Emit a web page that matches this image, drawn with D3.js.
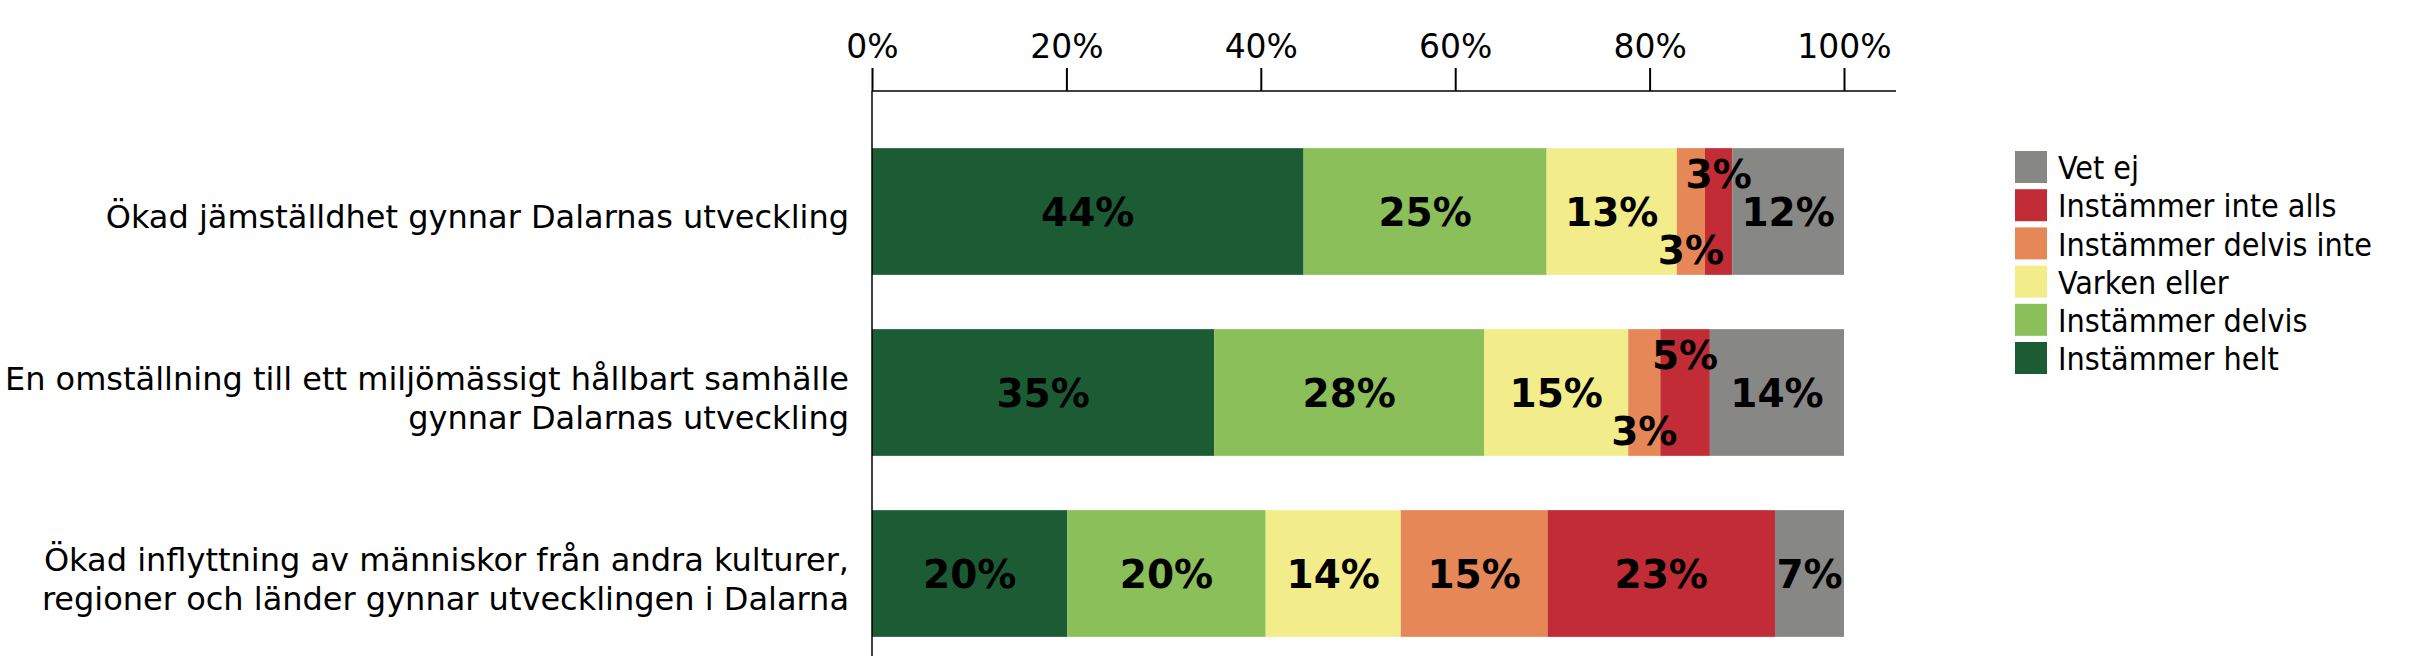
<!DOCTYPE html>
<html>
<head>
<meta charset="utf-8">
<script src="https://cdn.jsdelivr.net/npm/d3@7"></script>
<style>
  html, body { margin: 0; padding: 0; background: #fff; }
  svg { display: block; }
  text { font-family: "DejaVu Sans", sans-serif; }
  .cond { font-family: "DejaVu Sans Condensed", "DejaVu Sans", sans-serif; font-stretch: condensed; }
</style>
</head>
<body>
<svg id="chart" width="2430" height="656"></svg>
<script>
// ---- Data ----
const categories = [
  ["Ökad jämställdhet gynnar Dalarnas utveckling"],
  ["En omställning till ett miljömässigt hållbart samhälle", "gynnar Dalarnas utveckling"],
  ["Ökad inflyttning av människor från andra kulturer,", "regioner och länder gynnar utvecklingen i Dalarna"]
];
const seriesNames = ["Instämmer helt", "Instämmer delvis", "Varken eller", "Instämmer delvis inte", "Instämmer inte alls", "Vet ej"];
const seriesColors = ["#1c5c34", "#8bbf59", "#f2ed8a", "#e68758", "#c12c36", "#878786"];
const instammerHelt      = [44.4, 35.2, 20.1];
const instammerDelvis    = [25.0, 27.8, 20.4];
const varkenEller        = [13.4, 14.8, 13.9];
const instammerDelvisInte= [2.9, 3.3, 15.1];
const instammerInteAlls  = [2.8, 5.1, 23.4];
const vetEj              = [11.5, 13.8, 7.1];
const tickValues = [0, 20, 40, 60, 80, 100];

const seriesValues = [instammerHelt, instammerDelvis, varkenEller, instammerDelvisInte, instammerInteAlls, vetEj];

// ---- Layout ----
const svg = d3.select("#chart");
const x = d3.scaleLinear().domain([0, 100]).range([872, 1844]);
const y = d3.scaleBand().domain(d3.range(categories.length)).range([121, 664]).paddingInner(0.3).paddingOuter(0.15);
const axisY = 91;

const rows = categories.map((c, i) => {
  const r = { idx: i };
  seriesNames.forEach((s, j) => r[s] = seriesValues[j][i]);
  return r;
});
const stack = d3.stack().keys(seriesNames)(rows);

const gBars = svg.append("g");
stack.forEach((layer, j) => {
  gBars.selectAll(null).data(layer).enter().append("rect")
    .attr("x", d => x(d[0]))
    .attr("width", d => x(d[1]) - x(d[0]))
    .attr("y", (d, i) => y(i))
    .attr("height", y.bandwidth())
    .attr("fill", seriesColors[j]);
});

// data labels
const labelOffset = 38;
stack.forEach((layer, j) => {
  gBars.selectAll(null).data(layer).enter().append("text")
    .attr("x", d => (x(d[0]) + x(d[1])) / 2)
    .attr("y", (d, i) => {
      const v = d[1] - d[0];
      let c = y(i) + y.bandwidth() / 2;
      if (v < 6) c += (seriesNames[j] === "Instämmer inte alls") ? -labelOffset : labelOffset;
      return c;
    })
    .attr("dy", "0.36em")
    .attr("text-anchor", "middle")
    .attr("font-size", 39)
    .attr("font-weight", "bold")
    .attr("fill", "#000")
    .text(d => Math.round(d[1] - d[0]) + "%");
});

// x axis on top
const xAxis = d3.axisTop(x).tickValues(tickValues).tickSize(23).tickSizeOuter(0).tickFormat(d => d + "%");
const gx = svg.append("g").attr("transform", `translate(0,${axisY})`).call(xAxis);
gx.select(".domain").remove();
gx.selectAll(".tick line").attr("stroke", "#000").attr("stroke-width", 2);
gx.selectAll(".tick text").attr("font-size", 33).attr("fill", "#000").attr("y", -33).attr("dy", 0)
  .attr("font-family", "\"DejaVu Sans\", sans-serif");
svg.append("line").attr("x1", 872).attr("x2", 1896).attr("y1", axisY).attr("y2", axisY).attr("stroke", "#000").attr("stroke-width", 1.5);
svg.append("line").attr("x1", 872).attr("x2", 872).attr("y1", axisY).attr("y2", 656).attr("stroke", "#000").attr("stroke-width", 1.5);

// category labels
const gCat = svg.append("g");
categories.forEach((lines, i) => {
  const cy = y(i) + y.bandwidth() / 2 + 5;
  const lh = 39;
  const t = gCat.append("text").attr("text-anchor", "end").attr("font-size", 32).attr("fill", "#000");
  lines.forEach((ln, k) => {
    t.append("tspan").attr("x", 849)
      .attr("y", cy + (k - (lines.length - 1) / 2) * lh)
      .attr("dy", "0.36em")
      .text(ln);
  });
});

// legend (reversed order)
const legendOrder = d3.range(seriesNames.length).reverse();
const gLeg = svg.append("g");
legendOrder.forEach((j, k) => {
  const cy = 167 + k * 38.2;
  gLeg.append("rect").attr("x", 2015).attr("y", cy - 16).attr("width", 32).attr("height", 32).attr("fill", seriesColors[j]);
  gLeg.append("text").attr("class", "cond").attr("x", 2058).attr("y", cy).attr("dy", "0.38em").attr("font-size", 32).attr("fill", "#000").text(seriesNames[j]);
});
</script>
</body>
</html>
